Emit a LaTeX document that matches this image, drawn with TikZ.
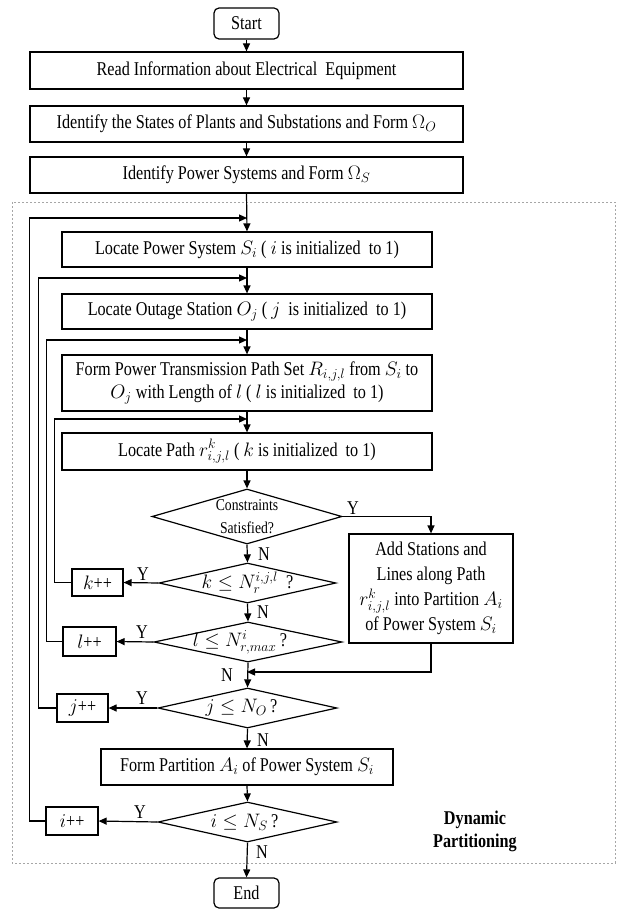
\documentclass[tikz,border=0pt]{standalone}
\usepackage{fix-cm}
\usepackage{fontspec}
\setmainfont[FakeStretch=0.83]{Liberation Serif}
\usetikzlibrary{shapes.geometric,arrows.meta}
\begin{document}
\begin{tikzpicture}[x=1pt,y=-1pt, line width=1.2pt,
  every node/.style={font=\fontsize{19.5}{23}\selectfont},
  box/.style={draw, rectangle, inner sep=0pt, align=center},
  term/.style={box, rounded corners=5pt},
  dia/.style={draw, diamond, inner sep=0pt},
  dtext/.style={inner sep=0pt, align=center},
  lbl/.style={inner sep=0pt},
  arr/.style={-{Triangle[length=8pt,width=7pt]}},
  dashbox/.style={draw=gray!70, line width=0.6pt, dash pattern=on 2pt off 2pt}]
\useasboundingbox (0,0) rectangle (616,909);
% dashed region
\draw[dashbox] (12,202) rectangle (615,863);
\node[lbl, align=center, font=\fontsize{19.5}{23}\selectfont\bfseries] (dyn) at (475,831.5) {Dynamic\\Partitioning};

% nodes
\node[term, minimum width=65pt, minimum height=31pt] (start) at (246.5,23.5) {Start};
\node[box, minimum width=433pt, minimum height=37pt] (read) at (246.5,70.5) {Read Information about Electrical\ \ Equipment};
\node[box, minimum width=433pt, minimum height=36pt] (states) at (246.5,124) {Identify the States of Plants and Substations and Form $\Omega_O$};
\node[box, minimum width=433pt, minimum height=36pt] (ident) at (246.5,175) {Identify Power Systems and Form $\Omega_S$};
\node[box, minimum width=370pt, minimum height=35pt] (lps) at (247,249.5) {Locate Power System $S_i$ ( $i$ is initialized\ \ to 1)};
\node[box, minimum width=370pt, minimum height=35pt] (los) at (247,311.5) {Locate Outage Station $O_j$ ( $j$\ \ is initialized\ \ to 1)};
\node[box, minimum width=370pt, minimum height=56pt] (fpt) at (247,383) {Form Power Transmission Path Set $R_{i,j,l}$ from $S_i$ to\\$O_j$ with Length of $l$ ( $l$ is initialized\ \ to 1)};
\node[box, minimum width=370pt, minimum height=37pt] (lpath) at (247,451.5) {Locate Path $r_{i,j,l}^{k}$ ( $k$ is initialized\ \ to 1)};
\node[dia, minimum width=190pt, minimum height=55pt] (dc) at (247,516.5) {};
\node[dtext, font=\fontsize{16.5}{23}\selectfont] (dct) at (dc.center) {Constraints\\Satisfied?};
\node[box, minimum width=164pt, minimum height=109pt, font=\fontsize{19.5}{25}\selectfont] (add) at (431,588.5) {Add Stations and\\Lines along Path\\$r_{i,j,l}^{k}$ into Partition $A_i$\\of Power System $S_i$};
\node[dia, minimum width=177pt, minimum height=40pt] (dk) at (247.5,583) {};
\node[dtext] (dkt) at (dk.center) {$k \le N_r^{i,j,l}$\ \ ?};
\node[box, minimum width=51pt, minimum height=27pt] (kpp) at (97.5,582.5) {$k$++};
\node[dia, minimum width=188pt, minimum height=40pt] (dl) at (248,642) {};
\node[dtext] (dlt) at ([xshift=-8pt]dl.center) {$l \le N_{r,max}^{i}$\,?};
\node[box, minimum width=53pt, minimum height=29pt] (lpp) at (89.5,641.5) {$l$++};
\coordinate (mg) at (247,672);
\node[dia, minimum width=179pt, minimum height=40pt] (dj) at (247.5,708) {};
\node[dtext] (djt) at ([xshift=-6pt]dj.center) {$j \le N_O$\,?};
\node[box, minimum width=51pt, minimum height=28pt] (jpp) at (82.5,708) {$j$++};
\node[box, minimum width=292pt, minimum height=36pt] (fp) at (247,767) {Form Partition $A_i$ of Power System $S_i$};
\node[dia, minimum width=179pt, minimum height=40pt] (di) at (247.5,822) {};
\node[dtext] (dit) at ([xshift=-3pt]di.center) {$i \le N_S$\,?};
\node[box, minimum width=52pt, minimum height=28pt] (ipp) at (72,821) {$i$++};
\node[term, minimum width=65pt, minimum height=30pt] (end) at (246.5,893) {End};

% loop entry points
\coordinate (iin) at (247,218);
\coordinate (jin) at (247,278);
\coordinate (lin) at (247,340);
\coordinate (kin) at (247,419);

% main flow
\draw[arr] (start.south) -- (read.north);
\draw[arr] (read.south) -- (states.north);
\draw[arr] (states.south) -- (ident.north);
\draw[arr] (ident.south) -- (lps.north);
\draw[arr] (lps.south) -- (los.north);
\draw[arr] (los.south) -- (fpt.north);
\draw[arr] (fpt.south) -- (lpath.north);
\draw[arr] (lpath.south) -- (dc.north);
\draw[arr] (dc.east) -| (add.north);
\draw[arr] (dc.south) -- (dk.north);
\draw[arr] (dk.west) -- (kpp.east);
\draw[arr] (dk.south) -- (dl.north);
\draw[arr] (dl.west) -- (lpp.east);
\draw[arr] (dl.south) -- (dj.north);
\draw[arr] (add.south) |- (mg);
\draw[arr] (dj.west) -- (jpp.east);
\draw[arr] (dj.south) -- (fp.north);
\draw[arr] (fp.south) -- (di.north);
\draw[arr] (di.west) -- (ipp.east);
\draw[arr] (di.south) -- (end.north);

% loops back
\draw[arr] (kpp.west) -- ++(-17,0) |- (kin);
\draw[arr] (lpp.west) -- ++(-16,0) |- (lin);
\draw[arr] (jpp.west) -- ++(-18,0) |- (jin);
\draw[arr] (ipp.west) -- ++(-16,0) |- (iin);

% labels
\node[lbl] (ydc) at (353,508) {Y};
\node[lbl] (ndc) at (264,554) {N};
\node[lbl] (ydk) at (143,574) {Y};
\node[lbl] (ndk) at (263,612) {N};
\node[lbl] (ydl) at (142,632) {Y};
\node[lbl] (ndl) at (227,675) {N};
\node[lbl] (ydj) at (142,698) {Y};
\node[lbl] (ndj) at (263,740) {N};
\node[lbl] (ydi) at (140,812) {Y};
\node[lbl] (ndi) at (262,852) {N};
\end{tikzpicture}
\end{document}
